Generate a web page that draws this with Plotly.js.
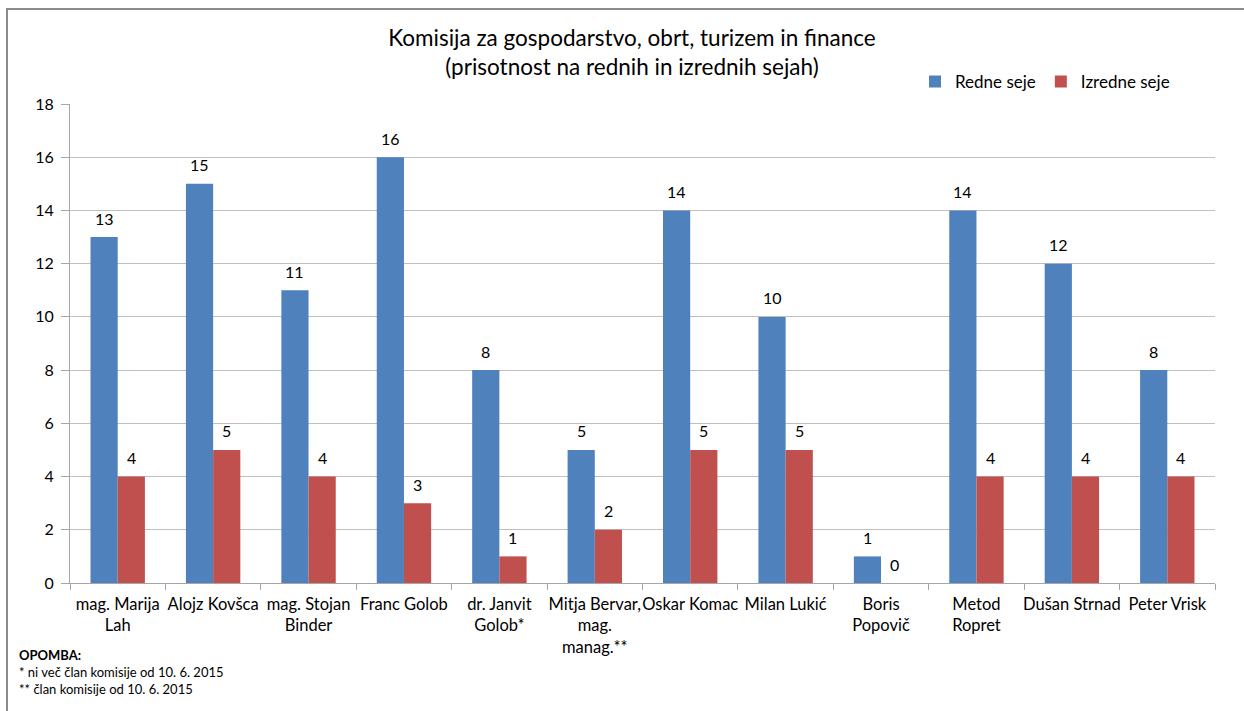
<!DOCTYPE html>
<html>
<head>
<meta charset="utf-8">
<script src="https://cdn.plot.ly/plotly-3.0.1.min.js"></script>
<style>
  html, body { margin: 0; padding: 0; background: #fff; }
  #wrap { position: relative; width: 1244px; height: 711px; }
  #frame { position: absolute; left: 6px; top: 8px; width: 1240px; height: 705px;
           border-left: 2px solid #8c8c8c; border-top: 2px solid #8c8c8c; pointer-events: none; z-index: 5; }
  #chart { position: absolute; left: 0; top: 0; width: 1244px; height: 711px; }
</style>
</head>
<body>
<div id="wrap">
  <div id="chart"></div>
  <div id="frame"></div>
</div>
<script>
const categories = [
  "mag. Marija<br>Lah",
  "Alojz Kovšca",
  "mag. Stojan<br>Binder",
  "Franc Golob",
  "dr. Janvit<br>Golob*",
  "Mitja Bervar,<br>mag.<br>manag.**",
  "Oskar Komac",
  "Milan Lukić",
  "Boris<br>Popovič",
  "Metod<br>Ropret",
  "Dušan Strnad",
  "Peter Vrisk"
];
const redneSeje = [13, 15, 11, 16, 8, 5, 14, 10, 1, 14, 12, 8];
const izredneSeje = [4, 5, 4, 3, 1, 2, 5, 5, 0, 4, 4, 4];
const yTicks = [0, 2, 4, 6, 8, 10, 12, 14, 16, 18];

const FONT = "Lato, 'Open Sans', 'DejaVu Sans', sans-serif";

const traces = [
  { type: "bar", name: "Redne seje", x: categories, y: redneSeje, marker: { color: "#4F81BD" } },
  { type: "bar", name: "Izredne seje", x: categories, y: izredneSeje, marker: { color: "#C0504D" } }
];

// value labels placed above each bar through the data scales
const valueLabels = [];
[[redneSeje, -13.6], [izredneSeje, 13.6]].forEach(([vals, dx]) => {
  vals.forEach((v, i) => {
    valueLabels.push({
      xref: "x", yref: "y", x: categories[i], y: v, xshift: dx, yshift: 19,
      text: String(v), showarrow: false, xanchor: "center", yanchor: "middle",
      font: { family: FONT, size: 16, color: "#000" }
    });
  });
});

const notes = [
  ["<b>OPOMBA:</b>", -0.151],
  ["* ni več član komisije od 10. 6. 2015", -0.186],
  ["** član komisije od 10. 6. 2015", -0.221]
].map(([t, y]) => ({
  xref: "paper", yref: "paper", x: -0.046, y: y, xanchor: "left", yanchor: "middle",
  text: t, showarrow: false, align: "left", font: { family: FONT, size: 13, color: "#000" }
}));

const layout = {
  width: 1244, height: 711,
  margin: { l: 70, r: 29, t: 104, b: 128 },
  paper_bgcolor: "#fff", plot_bgcolor: "#fff",
  font: { family: FONT, size: 16, color: "#000" },
  title: {
    text: "Komisija za gospodarstvo, obrt, turizem in finance<br>(prisotnost na rednih in izrednih sejah)",
    font: { family: FONT, size: 22.5, color: "#000" },
    x: 0.508, xanchor: "center", y: 0.936, yanchor: "top"
  },
  barmode: "group",
  bargap: 0.43,
  bargroupgap: 0,
  showlegend: true,
  legend: {
    orientation: "h", x: 0.738, xanchor: "left", y: 1.046, yanchor: "middle",
    font: { family: FONT, size: 17, color: "#000" },
    itemwidth: 30, traceorder: "normal"
  },
  xaxis: {
    type: "category",
    tickson: "boundaries",
    ticks: "outside", ticklen: 6, tickcolor: "#a6a6a6",
    showline: true, linecolor: "#a6a6a6", linewidth: 1,
    tickfont: { family: FONT, size: 16.5, color: "#000" },
    ticklabelstandoff: 6,
    tickangle: 0,
    showgrid: false, fixedrange: true
  },
  yaxis: {
    range: [0, 18],
    tickvals: yTicks,
    ticks: "outside", ticklen: 8, tickcolor: "#a6a6a6",
    showline: true, linecolor: "#a6a6a6", linewidth: 1,
    showgrid: true, gridcolor: "#bfbfbf", gridwidth: 1,
    zeroline: false,
    tickfont: { family: FONT, size: 16, color: "#000" },
    ticklabelstandoff: 4,
    fixedrange: true
  },
  annotations: valueLabels.concat(notes)
};

Plotly.newPlot("chart", traces, layout, { displayModeBar: false, staticPlot: true });
</script>
</body>
</html>
